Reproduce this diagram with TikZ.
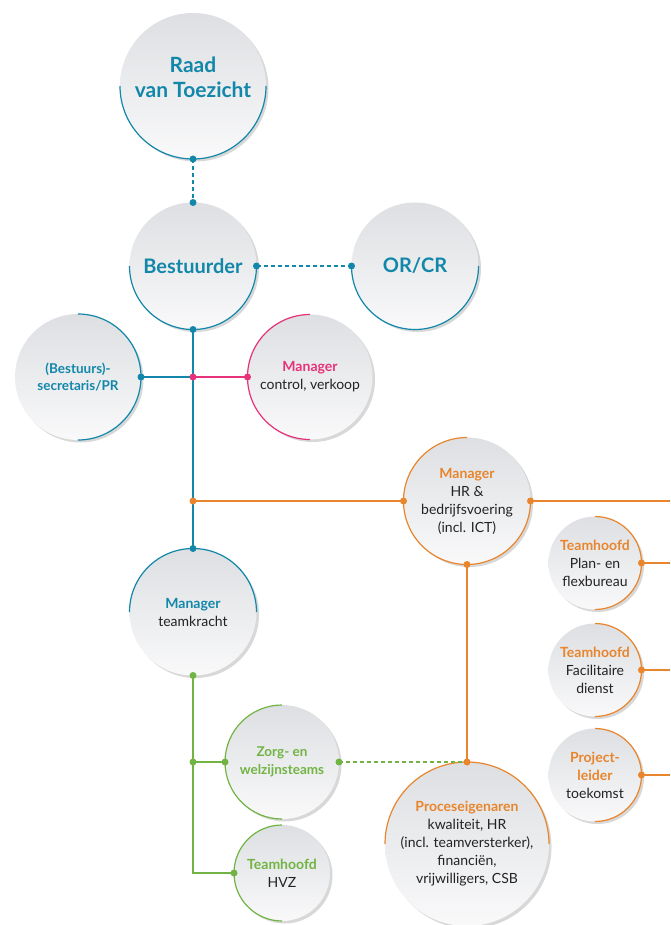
\documentclass[tikz,border=0pt]{standalone}
\usepackage{fontspec}
\setmainfont{Lato}
\usetikzlibrary{shadows}

\definecolor{rvtblue}{RGB}{18,135,170}
\definecolor{rvtpink}{RGB}{230,50,122}
\definecolor{rvtorange}{RGB}{232,133,45}
\definecolor{rvtgreen}{RGB}{114,180,68}
\definecolor{rvttext}{RGB}{35,35,35}
\definecolor{bubtop}{RGB}{221,223,226}
\definecolor{bubbot}{RGB}{249,249,250}

\tikzset{
  bubble/.style={circle, inner sep=0pt, outer sep=0pt, align=center, text=rvttext,
    top color=bubtop, bottom color=bubbot,
    drop shadow={shadow xshift=2.5pt, shadow yshift=-2.5pt, opacity=0.22, fill=black!70}},
  bigbubble/.style={bubble, minimum size=#1, font=\fontsize{20}{25}\selectfont\bfseries},
  smallbubble/.style={bubble, minimum size=#1, font=\fontsize{14}{18}\selectfont},
  link/.style={line width=1.2pt},
  dashlink/.style={line width=1.2pt, dash pattern=on 4pt off 3pt},
}

\begin{document}
\begin{tikzpicture}[x=1pt,y=1pt]
\useasboundingbox (0,0) rectangle (670,-925);
\coordinate (edge) at (670,0);

% circles
\node[bigbubble=146pt, text=rvtblue, font=\fontsize{21}{25}\selectfont\bfseries, text height=24pt, text depth=0pt] (raad) at (193,-86) {Raad\\van Toezicht};
\node[bigbubble=127pt, text=rvtblue] (bestuurder) at (193,-266) {Bestuurder};
\node[bigbubble=127pt, text=rvtblue] (orcr) at (415,-266) {OR/CR};
\node[smallbubble=126pt, text=rvtblue, font=\fontsize{13.5}{17.5}\selectfont\bfseries] (secretaris) at (78,-377) {(Bestuurs)-\\secretaris/PR};
\node[smallbubble=125pt] (control) at (310,-377) {\textcolor{rvtpink}{\textbf{Manager}}\\control, verkoop};
\node[smallbubble=127pt] (hrmanager) at (467,-501) {\textcolor{rvtorange}{\textbf{Manager}}\\HR \&\\bedrijfsvoering\\(incl. ICT)};
\node[smallbubble=93pt] (planbureau) at (595,-563) {\textcolor{rvtorange}{\textbf{Teamhoofd}}\\Plan- en\\flexbureau};
\node[smallbubble=93pt] (facilitair) at (595,-670) {\textcolor{rvtorange}{\textbf{Teamhoofd}}\\Facilitaire\\dienst};
\node[smallbubble=93pt] (projectleider) at (595,-775) {\textcolor{rvtorange}{\textbf{Project-}}\\\textcolor{rvtorange}{\textbf{leider}}\\toekomst};
\node[smallbubble=127pt] (teamkracht) at (193,-612) {\textcolor{rvtblue}{\textbf{Manager}}\\teamkracht};
\node[smallbubble=114pt, text=rvtgreen, font=\fontsize{13.5}{17.5}\selectfont\bfseries] (zorg) at (282,-762) {Zorg- en\\welzijnsteams};
\node[smallbubble=96pt] (hvz) at (282,-873) {\textcolor{rvtgreen}{\textbf{Teamhoofd}}\\HVZ};
\node[smallbubble=164pt] (proces) at (467,-844) {\textcolor{rvtorange}{\textbf{Proceseigenaren}}\\kwaliteit, HR\\(incl. teamversterker),\\financiën,\\vrijwilligers, CSB};

% coloured rims
\draw[rvtblue, link] (raad.west) arc[start angle=180, end angle=360, radius=73pt];
\draw[rvtblue, link] (bestuurder.west) arc[start angle=180, end angle=360, radius=63.5pt];
\draw[rvtblue, link] (orcr.west) arc[start angle=180, end angle=360, radius=63.5pt];
\draw[rvtblue, link] (secretaris.north) arc[start angle=90, end angle=-90, radius=63pt];
\draw[rvtpink, link] (control.north) arc[start angle=90, end angle=270, radius=62.5pt];
\draw[rvtorange, link] (hrmanager.north) arc[start angle=90, end angle=360, radius=63.5pt];
\draw[rvtorange, link] (planbureau.north) arc[start angle=90, end angle=-90, radius=46.5pt];
\draw[rvtorange, link] (facilitair.north) arc[start angle=90, end angle=-90, radius=46.5pt];
\draw[rvtorange, link] (projectleider.north) arc[start angle=90, end angle=-90, radius=46.5pt];
\draw[rvtblue, link] (teamkracht.east) arc[start angle=0, end angle=180, radius=63.5pt];
\draw[rvtgreen, link] (zorg.north) arc[start angle=90, end angle=270, radius=57pt];
\draw[rvtgreen, link] (hvz.north) arc[start angle=90, end angle=270, radius=48pt];
\draw[rvtorange, link] (proces.east) arc[start angle=0, end angle=180, radius=82pt];

% connectors
\coordinate (secjoint) at (bestuurder.south |- secretaris.east);
\coordinate (hrjoint) at (bestuurder.south |- hrmanager.west);
\coordinate (zorgjoint) at (teamkracht.south |- zorg.west);
\draw[rvtblue, dashlink] (raad.south) -- (bestuurder.north);
\draw[rvtblue, dashlink] (bestuurder.east) -- (orcr.west);
\draw[rvtblue, link] (bestuurder.south) -- (teamkracht.north);
\draw[rvtblue, link] (secjoint) -- (secretaris.east);
\draw[rvtpink, link] (secjoint) -- (control.west);
\draw[rvtorange, link] (hrjoint) -- (hrmanager.west);
\draw[rvtorange, link] (hrmanager.east) -- (hrmanager.east -| edge);
\draw[rvtorange, link] (planbureau.east) -- (planbureau.east -| edge);
\draw[rvtorange, link] (facilitair.east) -- (facilitair.east -| edge);
\draw[rvtorange, link] (projectleider.east) -- (projectleider.east -| edge);
\draw[rvtorange, link] (hrmanager.south) -- (proces.north);
\draw[rvtgreen, link] (teamkracht.south) |- (hvz.west);
\draw[rvtgreen, link] (zorgjoint) -- (zorg.west);
\draw[rvtgreen, dashlink] (zorg.east) -- (proces.north);

% dots
\foreach \p in {raad.south, bestuurder.north, bestuurder.east, orcr.west, bestuurder.south, secretaris.east, teamkracht.north}
  \fill[rvtblue] (\p) circle[radius=3.5pt];
\foreach \p in {secjoint, control.west}
  \fill[rvtpink] (\p) circle[radius=3.5pt];
\foreach \p in {hrjoint, hrmanager.west, hrmanager.east, hrmanager.south, planbureau.east, facilitair.east, projectleider.east, proces.north}
  \fill[rvtorange] (\p) circle[radius=3.5pt];
\foreach \p in {teamkracht.south, zorgjoint, zorg.west, zorg.east, hvz.west}
  \fill[rvtgreen] (\p) circle[radius=3.5pt];

\end{tikzpicture}
\end{document}
